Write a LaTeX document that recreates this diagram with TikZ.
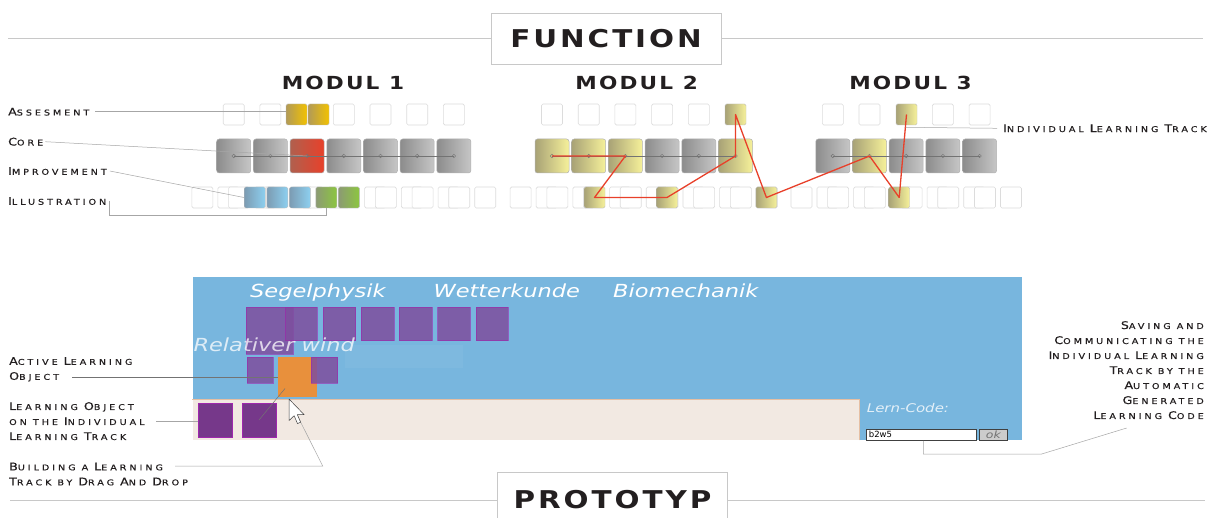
\documentclass[tikz,border=0pt]{standalone}
\usepackage{fontspec}
\setmainfont{DejaVu Sans}
\newfontfamily\labf[FakeStretch=1.2,LetterSpace=37,FakeBold=0.5]{DejaVu Sans}
\newfontfamily\titf[FakeStretch=1.2,LetterSpace=12]{DejaVu Sans}
\newfontfamily\itf[FakeStretch=1.25]{DejaVu Sans}
\usetikzlibrary{calc}
\pgfdeclarelayer{bg}
\pgfsetlayers{bg,main}
\newcommand\SC[2]{{\fontsize{10.5}{15}\selectfont #1}{\fontsize{8}{15}\selectfont #2}}
\definecolor{lgray}{HTML}{C8C8C8}
\definecolor{boxln}{HTML}{DCDCDC}
\definecolor{cgA}{HTML}{8C8C8C}
\definecolor{cgB}{HTML}{C6C6C6}
\definecolor{crA}{HTML}{B0604E}
\definecolor{crB}{HTML}{E8402A}
\definecolor{cyA}{HTML}{A8A276}
\definecolor{cyB}{HTML}{F6F19A}
\definecolor{goA}{HTML}{B29A58}
\definecolor{goB}{HTML}{F2C200}
\definecolor{cbA}{HTML}{7C9BB2}
\definecolor{cbB}{HTML}{8DD0F0}
\definecolor{cnA}{HTML}{8C9A74}
\definecolor{cnB}{HTML}{8CC63F}
\definecolor{track}{HTML}{E8402A}
\definecolor{scrblue}{HTML}{78B6DE}
\definecolor{purp}{HTML}{7E4E9E}
\definecolor{purpd}{HTML}{76388A}
\definecolor{orng}{HTML}{E8903C}
\definecolor{beige}{HTML}{F2E9E2}
\definecolor{beigeln}{HTML}{E6BFA3}
\definecolor{txt}{HTML}{231F20}
\begin{document}
\begin{tikzpicture}[x=1pt,y=-1pt,
  wbox/.style={draw=boxln, fill=white, rounded corners=1.5pt, minimum size=21pt, inner sep=0pt, line width=0.6pt},
  sbox/.style={draw=black!25, rounded corners=1.5pt, minimum size=21pt, inner sep=0pt, line width=0.4pt},
  cbox/.style={draw=black!30, rounded corners=2.5pt, minimum size=34pt, inner sep=0pt, line width=0.5pt},
  tree/.style={draw=boxln, line width=0.6pt},
  coreln/.style={draw=black!55, line width=0.5pt},
  cdot/.style={draw=black!55, line width=0.4pt},
  lead/.style={draw=black!35, line width=0.5pt},
  dlead/.style={draw=black!55, line width=0.5pt},
  trk/.style={draw=track, line width=1.3pt, line join=round},
  lab/.style={font=\labf\fontsize{8}{15}\selectfont, text=txt, inner sep=0pt},
  ttl/.style={font=\titf\bfseries\fontsize{24.5}{28}\selectfont, text=txt, draw=lgray, line width=0.8pt},
  mtl/.style={font=\titf\bfseries\fontsize{18}{20}\selectfont, text=txt},
  scrt/.style={font=\itf\itshape\fontsize{18}{20}\selectfont, text=white, inner sep=0pt},
  pbox/.style={fill=purp, fill opacity=0.85, draw=purpd!70!magenta, draw opacity=0.6, line width=0.4pt, inner sep=0pt},
]
\useasboundingbox (0,0) rectangle (1215,518);
\clip (0,0) rectangle (1215,518);
\fill[white] (0,0) rectangle (1215,518);

% ---------- headers ----------
\node[ttl, minimum width=230pt, minimum height=51pt] (fbox) at (606,38.5) {FUNCTION};
\coordinate (hl1) at (8,38.5);
\coordinate (hl2) at (1203,38.5);
\draw[lgray, line width=0.8pt] (hl1) -- (fbox.west) (fbox.east) -- (hl2);

\node[ttl, minimum width=230.4pt, minimum height=55.4pt] (pbx) at (612.5,500) {PROTOTYP};
\coordinate (pl1) at (10,500);
\coordinate (pl2) at (1205,500);
\draw[lgray, line width=0.8pt] (pl1) -- (pbx.west) (pbx.east) -- (pl2);

\node[mtl] (mt1) at (343,83) {MODUL 1};
\node[mtl] (mt2) at (636.7,83) {MODUL 2};
\node[mtl] (mt3) at (910.5,83) {MODUL 3};

% ---------- modul 1 ----------
\foreach \k/\l/\r in {0/cgA/cgB,1/cgA/cgB,2/crA/crB,3/cgA/cgB,4/cgA/cgB,5/cgA/cgB,6/cgA/cgB}
  \node[cbox,left color=\l,right color=\r] (a\k) at ({233.7+36.7*\k},156) {};
\foreach \k in {0,1,3,4,5,6}
  \node[wbox] (at\k) at ({233.7+36.7*\k},114.5) {};
\node[sbox,left color=goA,right color=goB] (g1) at (296.5,114.5) {};
\node[sbox,left color=goA,right color=goB] (g2) at (318.5,114.5) {};
\coordinate (gp) at (307.5,125);
\foreach \b in {0,...,7}{
  \coordinate (ap\b) at ({215.35+36.7*\b},173);
  \node[wbox] (al\b) at ({202.35+36.7*\b},197.5) {};
  \node[wbox] (ar\b) at ({228.35+36.7*\b},197.5) {};
}
\foreach \n/\x in {b1/254.7,b2/277.3,b3/299.9}
  \node[sbox,left color=cbA,right color=cbB] (\n) at (\x,197.5) {};
\foreach \n/\x in {gr1/326.3,gr2/348.9}
  \node[sbox,left color=cnA,right color=cnB] (\n) at (\x,197.5) {};
\draw[coreln] (a0.center) -- (a6.center);
\foreach \k in {0,...,6} \draw[cdot] (a\k.center) circle (1.8pt);

% ---------- modul 2 ----------
\foreach \k/\l/\r in {0/cyA/cyB,1/cyA/cyB,2/cyA/cyB,3/cgA/cgB,4/cgA/cgB,5/cyA/cyB}
  \node[cbox,left color=\l,right color=\r] (c\k) at ({552+36.7*\k},156) {};
\foreach \k in {0,...,4}
  \node[wbox] (ct\k) at ({552+36.7*\k},114.5) {};
\node[sbox,left color=cyA,right color=cyB] (yt2) at (735.5,114.5) {};
\foreach \b in {0,...,6}{
  \coordinate (cp\b) at ({533.65+36.7*\b},173);
  \node[wbox] (cl\b) at ({520.65+36.7*\b},197.5) {};
  \node[wbox] (cr\b) at ({546.65+36.7*\b},197.5) {};
}
\node[sbox,left color=cyA,right color=cyB] (y1) at (594.5,197.5) {};
\node[sbox,left color=cyA,right color=cyB] (y2) at (667,197.5) {};
\node[sbox,left color=cyA,right color=cyB] (y3) at (766.4,197.5) {};
\draw[coreln] (c0.center) -- (c5.center);
\foreach \k in {0,...,5} \draw[cdot] (c\k.center) circle (1.8pt);

% ---------- modul 3 ----------
\foreach \k/\l/\r in {0/cgA/cgB,1/cyA/cyB,2/cgA/cgB,3/cgA/cgB,4/cgA/cgB}
  \node[cbox,left color=\l,right color=\r] (d\k) at ({832.8+36.7*\k},156) {};
\foreach \k in {0,1,3,4}
  \node[wbox] (dt\k) at ({832.8+36.7*\k},114.5) {};
\node[sbox,left color=cyA,right color=cyB] (yt3) at (906.5,114.5) {};
\foreach \b in {0,...,5}{
  \coordinate (dp\b) at ({814.45+36.7*\b},173);
  \node[wbox] (dl\b) at ({801.45+36.7*\b},197.5) {};
  \node[wbox] (dr\b) at ({827.45+36.7*\b},197.5) {};
}
\node[sbox,left color=cyA,right color=cyB] (y4) at (899.2,197.5) {};
\draw[coreln] (d0.center) -- (d4.center);
\foreach \k in {0,...,4} \draw[cdot] (d\k.center) circle (1.8pt);

% ---------- tree connectors (behind) ----------
\begin{pgfonlayer}{bg}
  \foreach \k in {0,1,3,4,5,6} \draw[tree] (at\k.south) -- (a\k.north);
  \draw[tree] (gp) -- (a2.north);
  \foreach \b in {0,...,7} \draw[tree] (al\b.north) -- (ap\b) -- (ar\b.north);
  \foreach \k in {0,...,4} \draw[tree] (ct\k.south) -- (c\k.north);
  \draw[tree] (yt2.south) -- (c5.north);
  \foreach \b in {0,...,6} \draw[tree] (cl\b.north) -- (cp\b) -- (cr\b.north);
  \foreach \k in {0,1,3,4} \draw[tree] (dt\k.south) -- (d\k.north);
  \draw[tree] (yt3.south) -- (d2.north);
  \foreach \b in {0,...,5} \draw[tree] (dl\b.north) -- (dp\b) -- (dr\b.north);
\end{pgfonlayer}

% ---------- individual learning track ----------
\draw[trk] (c0.center) -- (c2.center) -- (y1.center) -- (y2.center) -- (c5.center)
  -- (yt2.center) -- (y3.center) -- (d1.center) -- (y4.center) -- (yt3.center);

% ---------- function labels ----------
\node[lab, anchor=west] (asl) at (8,111.7) {\SC{A}{SSESMENT}};
\node[lab, anchor=west] (crl) at (8,141.7) {\SC{C}{ORE}};
\node[lab, anchor=west] (iml) at (8,171) {\SC{I}{MPROVEMENT}};
\node[lab, anchor=west] (ill) at (8,201) {\SC{I}{LLUSTRATION}};
\node[lab, anchor=west] (itl) at (1003,128.3) {\SC{I}{NDIVIDUAL} \SC{L}{EARNING} \SC{T}{RACK}};
\draw[lead] ([xshift=6pt]asl.east) -- (asl.east -| g1.west);
\draw[lead] ([xshift=2pt]crl.east) -- (a2.center);
\draw[lead] ([xshift=3pt]iml.east) -- (b1.west);
\draw[lead] ([xshift=3pt]ill.east) -- ++(0,14) -| (gr1.south);
\coordinate (itp) at (905.6,127.3);
\draw[lead] (itp) -- ([xshift=-6pt]itl.west);

% ---------- prototype screen ----------
\node[fill=scrblue, minimum width=829.4pt, minimum height=162.7pt, anchor=north west, inner sep=0pt] (scr) at (192.3,277.3) {};
\node[fill=beige, minimum width=666.7pt, minimum height=40.7pt, anchor=north west, inner sep=0pt] (bei) at (192.3,399.3) {};
\draw[beigeln, line width=0.8pt] (bei.south east) -- (bei.north east) -- (bei.north west);

\node[scrt, anchor=base west] (t1) at (250,298) {Segelphysik};
\node[scrt, anchor=base west] (t2) at (433.3,298) {Wetterkunde};
\node[scrt, anchor=base west] (t3) at (613,298) {Biomechanik};

\node[pbox, minimum width=47pt, minimum height=47pt, anchor=north west] (p0) at (246,307.3) {};
\foreach \k in {1,...,6}
  \node[pbox, minimum width=32.6pt, minimum height=33.4pt] (p\k) at ({301+38.2*(\k-1)},324) {};
\fill[white, opacity=0.05] (345,345) rectangle (463,368);
\node[scrt, anchor=base west, text opacity=0.75] (rw) at (193.3,351.7) {Relativer wind};

\node[pbox, minimum width=26pt, minimum height=26pt] (q1) at (259.7,370.3) {};
\node[fill=orng, minimum width=39.6pt, minimum height=40pt, inner sep=0pt] (or) at (297.5,377.3) {};
\node[pbox, minimum width=26.7pt, minimum height=26pt] (q2) at (324.3,370.3) {};

\node[fill=purpd, draw=purpd!70!magenta, line width=0.4pt, minimum width=34pt, minimum height=33.4pt, inner sep=0pt] (pb1) at (215.3,420) {};
\node[fill=purpd, draw=purpd!70!magenta, line width=0.4pt, minimum width=33.4pt, minimum height=33.4pt, inner sep=0pt] (pb2) at (259,420) {};

\node[anchor=base west, inner sep=0pt, text=white!80!scrblue, font=\itf\itshape\fontsize{12}{14}\selectfont] (lc) at (866.7,412.5) {Lern-Code:};
\node[draw=black!75, fill=white, line width=0.8pt, minimum width=110pt, minimum height=11.5pt, anchor=north west, inner sep=1.5pt, text width=105pt, align=left, font=\fontsize{8.5}{9}\selectfont] (inp) at (866,428.5) {b2w5};
\node[draw=black!75, fill=black!20, line width=0.8pt, minimum width=27.4pt, minimum height=11.5pt, anchor=north west, inner sep=0pt, text=black!55, font=\itf\itshape\fontsize{10}{10}\selectfont] (okb) at (979.3,428.5) {ok};

% ---------- prototype labels ----------
\node[lab, anchor=north west, align=left] (act) at (9,357) {\SC{A}{CTIVE} \SC{L}{EARNING}\\\SC{O}{BJECT}};
\node[lab, anchor=north west, align=left] (lob) at (9,402) {\SC{L}{EARNING} \SC{O}{BJECT}\\\SC{}{ON THE} \SC{I}{NDIVIDUAL}\\\SC{L}{EARNING} \SC{T}{RACK}};
\node[lab, anchor=north west, align=left] (bld) at (9,462.5) {\SC{B}{UILDING} \SC{}{A} \SC{L}{EARNING}\\\SC{T}{RACK} \SC{}{BY} \SC{D}{RAG} \SC{A}{ND} \SC{D}{ROP}};
\node[lab, anchor=north east, align=right] (sav) at (1204,321) {\SC{S}{AVING} \SC{}{AND}\\\SC{C}{OMMUNICATING} \SC{}{THE}\\\SC{I}{NDIVIDUAL} \SC{L}{EARNING}\\\SC{T}{RACK} \SC{}{BY THE}\\\SC{A}{UTOMATIC}\\\SC{G}{ENERATED}\\\SC{L}{EARNING} \SC{C}{ODE}};

\coordinate (actp) at (72,377.3);
\draw[dlead] (actp) -- (actp -| or.west);
\coordinate (lobp) at (156,421);
\draw[lead] (lobp) -- (lobp -| pb1.west);
\coordinate (orp) at (285,388.5);
\draw[dlead] (orp) -- (pb2.center);
\coordinate (cur) at (289,399);
\coordinate (bdp) at (175,466);
\coordinate (bdc) at (322.7,466);
\draw[lead] (bdp) -- (bdc) -- (cur);
\coordinate (svx) at (923.3,454);
\coordinate (svm) at (1041.7,454);
\coordinate (sve) at (1126.7,428);
\draw[lead] (inp.south -| svx) -- (svx) -- (svm) -- (sve);

% cursor
\draw[fill=white, draw=black!75, line width=0.5pt, line join=round, shift={(cur)}, scale=1.35]
  (0,0) -- (0,16) -- (3.8,12.4) -- (6.3,18.2) -- (8.6,17.2) -- (6.2,11.6) -- (11.2,11.6) -- cycle;
\end{tikzpicture}
\end{document}
